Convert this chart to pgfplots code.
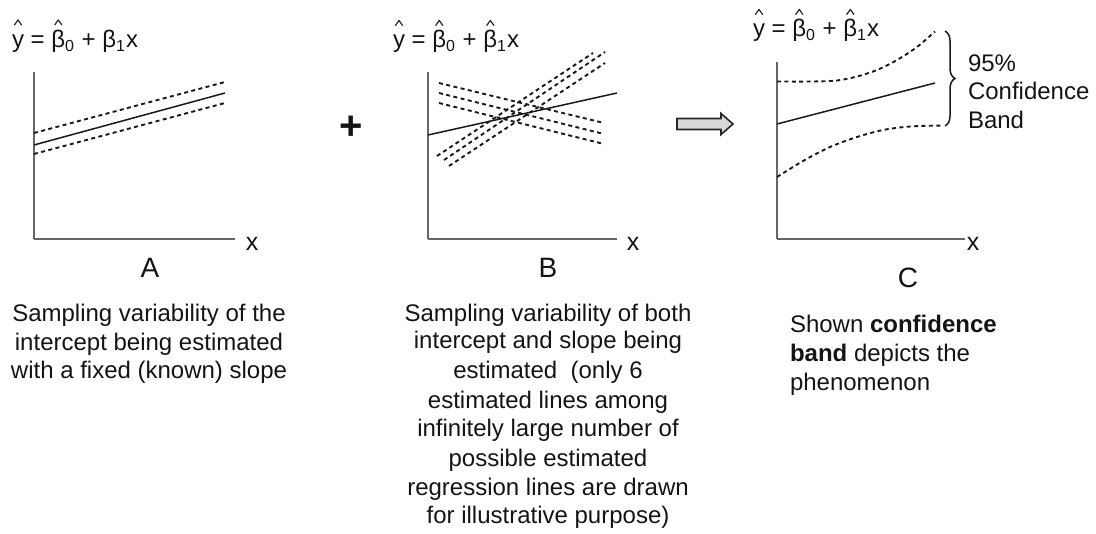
\documentclass[border=0pt]{standalone}
\usepackage{fontspec}
\setmainfont{Liberation Sans}
\usepackage{pgfplots}
\pgfplotsset{compat=1.18}
\usetikzlibrary{decorations.pathreplacing}

\newcommand{\hatt}[1]{\ooalign{#1\cr\hidewidth\tikz[baseline=0pt]\draw[line width=0.6pt, line cap=round, line join=round, black!85] (0,11.3pt) -- (1.75pt,13.8pt) -- (3.5pt,11.3pt);\hidewidth\cr}}

\pgfplotsset{
  panel/.style={scale only axis, anchor=south west,
    axis x line=bottom, axis y line=left,
    axis line style={-, line width=1.2pt, draw=black!60},
    xtick=\empty, ytick=\empty, clip=false, xmin=0, ymin=0},
  est/.style={black!90, line width=0.75pt, no marks},
  dsh/.style={black!90, line width=0.95pt, dash pattern=on 2pt off 1.7pt, no marks},
}

\begin{document}
\begin{tikzpicture}
\path[use as bounding box] (0,0) rectangle (548pt,-267pt);

% ---------- Panel A ----------
\begin{axis}[panel, at={(17pt,-119.5pt)}, width=100.5pt, height=83.5pt, xmax=201, ymax=167]
\addplot[est] coordinates {(0,94) (191,146)};
\addplot[dsh] coordinates {(0,106) (191,157)};
\addplot[dsh] coordinates {(0,85) (191,136)};
\end{axis}

% ---------- Panel B ----------
\begin{axis}[panel, at={(214pt,-119.5pt)}, width=94.5pt, height=83.5pt, xmax=189, ymax=167]
\addplot[est] coordinates {(0,104) (189,146)};
\addplot[dsh] coordinates {(11,156) (176,116)};
\addplot[dsh] coordinates {(11,146) (176,105)};
\addplot[dsh] coordinates {(11,136) (176,95)};
\addplot[dsh] coordinates {(9,83) (165,186)};
\addplot[dsh] coordinates {(16,79) (177,187)};
\addplot[dsh] coordinates {(21,73) (177,176)};
\end{axis}

% ---------- Panel C ----------
\begin{axis}[panel, at={(388.5pt,-119.5pt)}, width=94pt, height=88.5pt, xmax=188, ymax=177]
\addplot[est] coordinates {(0,115) (158,156)};
\addplot[dsh, smooth] coordinates {(0,157.5) (36,157.5) (60,158.5) (80,162.5) (100,169) (120,179) (140,192) (158,207.5)};
\addplot[dsh, smooth] coordinates {(0,62) (26,78) (53,92) (80,102) (106,109) (133,112.5) (166,113.5)};
\draw[decorate, decoration={brace, amplitude=5pt}, line width=0.75pt, black!90] (axis cs:168,208) -- (axis cs:168,113);
\end{axis}

\begin{scope}[x=0.5pt, y=-0.5pt, every node/.style={inner sep=0pt, outer sep=0pt, text=black!92}]
\def\tf{\fontsize{12}{14}\selectfont}
\def\ttf{\fontsize{12}{14}\selectfont}
% titles
\node[anchor=base west, font=\ttf] at (12,47.5) {\hatt{y} = \hatt{β}\textsubscript{0} + β\textsubscript{1}x};
\node[anchor=base west, font=\ttf] at (393,48) {\hatt{y} = \hatt{β}\textsubscript{0} + \hatt{β}\textsubscript{1}x};
\node[anchor=base west, font=\ttf] at (753,37) {\hatt{y} = \hatt{β}\textsubscript{0} + \hatt{β}\textsubscript{1}x};
% x labels
\node[anchor=base, font=\fontsize{12.5}{14}\selectfont] at (252,250) {x};
\node[anchor=base, font=\fontsize{12.5}{14}\selectfont] at (633,250) {x};
\node[anchor=base, font=\fontsize{12.5}{14}\selectfont] at (973,250) {x};
% panel letters
\node[anchor=base, font=\fontsize{14}{16}\selectfont] at (150,278) {A};
\node[anchor=base, font=\fontsize{14}{16}\selectfont] at (548,278) {B};
\node[anchor=base, font=\fontsize{14}{16}\selectfont] at (908,287) {C};
% plus and arrow
\node[anchor=center, font=\fontsize{20}{20}\selectfont\bfseries] at (351,127.5) {+};
\draw[line width=0.8pt, draw=black!85, fill=black!15, line join=miter]
  (677,118.5) -- (721,118.5) -- (721,113.5) -- (733,124) -- (721,134.5) -- (721,129.5) -- (677,129.5) -- cycle;
% confidence band text
\node[anchor=base west, font=\tf] at (968,71.5) {95\%};
\node[anchor=base west, font=\tf] at (968,100) {Confidence};
\node[anchor=base west, font=\tf] at (968,128.5) {Band};
% captions A
\node[anchor=base, font=\tf] at (149,321.7) {Sampling variability of the};
\node[anchor=base, font=\tf] at (149,350) {intercept being estimated};
\node[anchor=base, font=\tf] at (149,378.5) {with a fixed (known) slope};
% captions B
\node[anchor=base, font=\tf] at (548,321.7) {Sampling variability of both};
\node[anchor=base, font=\tf] at (548,348.5) {intercept and slope being};
\node[anchor=base, font=\tf] at (548,378.3) {estimated\ \ (only 6};
\node[anchor=base, font=\tf] at (548,408) {estimated lines among};
\node[anchor=base, font=\tf] at (548,436.7) {infinitely large number of};
\node[anchor=base, font=\tf] at (548,466.5) {possible estimated};
\node[anchor=base, font=\tf] at (548,495) {regression lines are drawn};
\node[anchor=base, font=\tf] at (548,523.3) {for illustrative purpose)};
% captions C
\node[anchor=base west, font=\tf] at (790,332.7) {Shown \textbf{confidence}};
\node[anchor=base west, font=\tf] at (790,361.7) {\textbf{band} depicts the};
\node[anchor=base west, font=\tf] at (790,390) {phenomenon};
\end{scope}
\end{tikzpicture}
\end{document}
